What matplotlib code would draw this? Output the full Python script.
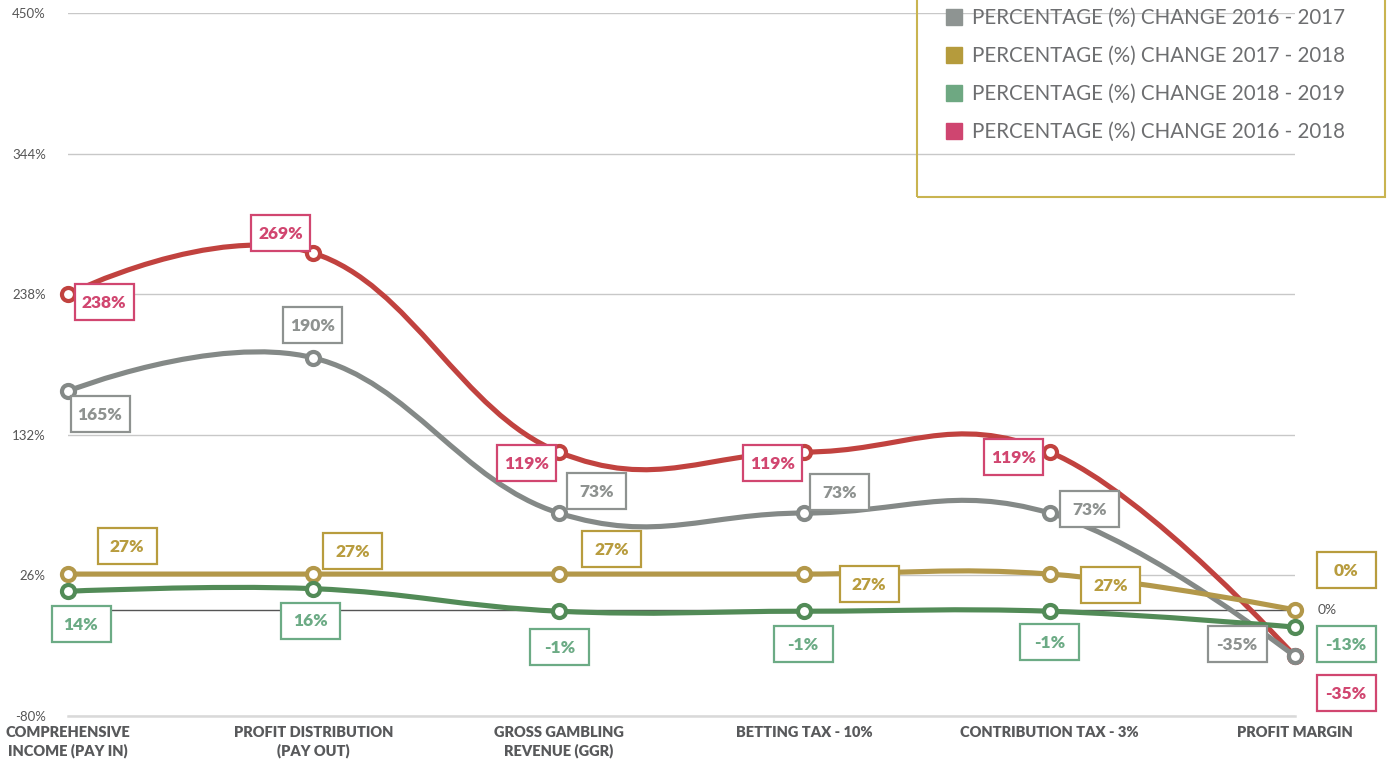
import matplotlib
matplotlib.use("Agg")
import matplotlib.pyplot as plt
from matplotlib.path import Path
from matplotlib.patches import PathPatch, Rectangle
from matplotlib.offsetbox import DrawingArea, AnnotationBbox
from matplotlib.text import Text
from matplotlib.lines import Line2D

# ---------------- data ----------------
categories = ["COMPREHENSIVE\nINCOME (PAY IN)", "PROFIT DISTRIBUTION\n(PAY OUT)",
              "GROSS GAMBLING\nREVENUE (GGR)", "BETTING TAX - 10%",
              "CONTRIBUTION TAX - 3%", "PROFIT MARGIN"]
series_names = ["PERCENTAGE (%) CHANGE 2016 - 2017", "PERCENTAGE (%) CHANGE 2017 - 2018",
                "PERCENTAGE (%) CHANGE 2018 - 2019", "PERCENTAGE (%) CHANGE 2016 - 2018"]
chg_2016_2017 = [165, 190, 73, 73, 73, -35]
chg_2017_2018 = [27, 27, 27, 27, 27, 0]
chg_2018_2019 = [14, 16, -1, -1, -1, -13]
chg_2016_2018 = [238, 269, 119, 119, 119, -35]
y_ticks = [-80, 26, 132, 238, 344, 450]

# label offsets (pixels, from each point to label-box centre; +y = up)
off_2016_2017 = [(32, -23), (-1, 33), (38, 22), (35, 21), (40, 4), (-58, 12)]
off_2017_2018 = [(59, 28), (39, 23), (53, 25), (65, -10), (61, -11), (51, 40)]
off_2018_2019 = [(13, -33), (-3, -32), (1, -36), (-1, -33), (0, -31), (51, -17)]
off_2016_2018 = [(36, -8), (-33, 20), (-32, -11), (-32, -11), (-36, -5), (51, -37)]

FONT = "Lato"
W, H = 1389, 764
fig = plt.figure(figsize=(W / 100, H / 100), dpi=100)
ax = fig.add_axes([68 / W, (H - 716) / H, (1295 - 68) / W, (716 - 13) / H])
ax.set_xlim(0, len(categories) - 1)
ax.set_ylim(y_ticks[0], y_ticks[-1])


def spline_path(xs, ys, smoothing=1.5):
    n = len(xs)
    denom = smoothing + 1
    lc = [None] * n
    rc = [None] * n
    for i in range(1, n - 1):
        x, y = xs[i], ys[i]
        lx, ly = xs[i - 1], ys[i - 1]
        nx, ny = xs[i + 1], ys[i + 1]
        lcx = (smoothing * x + lx) / denom
        lcy = (smoothing * y + ly) / denom
        rcx = (smoothing * x + nx) / denom
        rcy = (smoothing * y + ny) / denom
        corr = ((rcy - lcy) * (rcx - x)) / (rcx - lcx) + y - rcy
        lc[i] = (lcx, lcy + corr)
        rc[i] = (rcx, rcy + corr)
    verts = [(xs[0], ys[0])]
    codes = [Path.MOVETO]
    for i in range(1, n):
        c1 = rc[i - 1] if rc[i - 1] is not None else (xs[i - 1], ys[i - 1])
        c2 = lc[i] if lc[i] is not None else (xs[i], ys[i])
        verts += [c1, c2, (xs[i], ys[i])]
        codes += [Path.CURVE4] * 3
    return Path(verts, codes)


series = [
    # values, line colour, label colour, legend colour, offsets, zorder
    (chg_2016_2018, "#c1423f", "#d14670", "#cf4570", off_2016_2018, 3),
    (chg_2016_2017, "#848987", "#8e9290", "#8e9492", off_2016_2017, 4),
    (chg_2017_2018, "#b3984a", "#b89c3e", "#b59b3c", off_2017_2018, 5),
    (chg_2018_2019, "#528b57", "#6cab85", "#6ea882", off_2018_2019, 6),
]

xs = list(range(len(categories)))
for vals, lc_, tc_, _, offs, z in series:
    p = spline_path(xs, vals)
    ax.add_patch(PathPatch(p, fc="none", ec=lc_, lw=3.7, zorder=z,
                           clip_on=False, capstyle="round", joinstyle="round"))
    ax.plot(xs, vals, ls="none", marker="o", ms=9.4, mew=3.0, mfc="white",
            mec=lc_, zorder=z + 0.5, clip_on=False)

# boxed data labels
bw, bh = 59 * 0.72, 36 * 0.72
for vals, lc_, tc_, _, offs, z in series:
    for x, v, (dx, dy) in zip(xs, vals, offs):
        da = DrawingArea(bw, bh, 0, 0, clip=False)
        da.add_artist(Rectangle((0, 0), bw, bh, fc="white", ec=tc_, lw=1.6))
        da.add_artist(Text(bw / 2, bh / 2 - 0.5, f"{v}%", ha="center", va="center",
                           color=tc_, fontsize=12.5, fontweight="heavy", family=FONT))
        ab = AnnotationBbox(da, (x, v), xybox=(dx * 0.72, dy * 0.72),
                            xycoords="data", boxcoords="offset points",
                            frameon=False, pad=0, box_alignment=(0.5, 0.5),
                            annotation_clip=False)
        ab.set_zorder(20)
        ax.add_artist(ab)

# axes styling
ax.set_yticks(y_ticks)
ax.set_yticklabels([f"{t}%" for t in y_ticks], fontsize=9.5, color="#555555", family=FONT)
ax.set_xticks(xs)
ax.set_xticklabels(categories, fontsize=10.5, fontweight="heavy", color="#58595b",
                   family=FONT, linespacing=1.35, va="top")
ax.tick_params(axis="both", length=0)
ax.tick_params(axis="y", pad=16)
ax.tick_params(axis="x", pad=7)
ax.grid(axis="y", color="#c8c8c8", lw=1)
ax.grid(axis="x", visible=False)
ax.set_axisbelow(True)
for s in ["top", "right", "left"]:
    ax.spines[s].set_visible(False)
ax.spines["bottom"].set_color("#d9d9d9")
ax.spines["bottom"].set_linewidth(1.8)
ax.axhline(0, color="#555555", lw=1, zorder=1)
ax.annotate("0%", (xs[-1], 0), xytext=(23 * 0.72, 0), textcoords="offset points",
            ha="left", va="center", fontsize=10, color="#555555", family=FONT,
            annotation_clip=False)

# legend
handles = [Line2D([], [], ls="none", marker="s", ms=11.5, color=s[3], mec=s[3])
           for s in [series[1], series[2], series[3], series[0]]]
leg = fig.legend(handles, series_names, loc="upper left",
                 bbox_to_anchor=(946 / W, 1 - 8 / H), frameon=False,
                 prop={"family": FONT, "size": 14.8}, handlelength=0.8,
                 handletextpad=0.45, labelspacing=0.88, borderpad=0, borderaxespad=0)
for t in leg.get_texts():
    t.set_color("#6d6e70")
fig.patches.append(Rectangle((917 / W, 1 - 197 / H), (1385 - 917) / W, 200 / H,
                             transform=fig.transFigure, fc="none", ec="#c9b450",
                             lw=1.5, zorder=10))

fig.savefig("out.png", dpi=100)
